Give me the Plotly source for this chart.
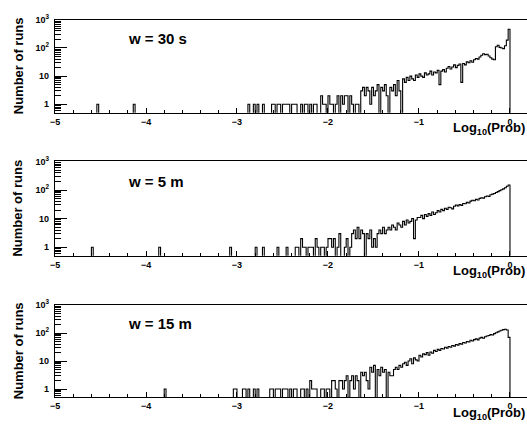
import plotly.graph_objects as go

# ---------------- data ----------------
BIN_WIDTH = 0.02
COUNTS_START = -3.10          # left edge of the first entry in each counts list
labels = ["w = 30 s", "w = 5 m", "w = 15 m"]

counts_30s = [0, 0, 0, 0, 0,
    0, 0, 0, 0, 0, 0, 1, 0, 0, 1, 0, 1, 0, 0, 1, 0, 0, 0, 0, 1, 1, 0,
    1, 1, 0, 1, 1, 1, 1, 0, 1, 1, 1, 0, 0,
    1, 0, 1, 1, 0, 1, 0, 1, 1, 0, 0,
    2, 1, 1, 0, 2, 1, 1, 0, 1,
    2, 0, 2, 1, 2, 2, 0, 2,
    1, 0, 1, 1, 0,
    3, 4, 2, 4, 3, 1, 4, 2,
    3, 5, 0, 4, 3, 5, 2, 0, 4, 3, 5, 2, 7, 3, 0,
    8, 6, 9, 7, 10, 8, 7, 11, 9,
    12, 10, 9, 13, 11, 12, 15, 11, 14, 13, 16, 5,
    15, 17, 14, 19, 22, 18, 21, 25, 20, 24, 27, 6,
    28, 25, 32, 30, 35, 31, 38, 42, 40, 48, 55, 62,
    58, 60, 52, 45, 40, 38,
    110, 125, 105, 100, 95, 120, 190, 460]
isolated_30s = [-4.53, -4.12]

counts_5m = [0, 1, 0, 0, 0,
    0, 0, 0, 0, 0, 0, 0, 0, 0, 0,
    1, 0, 0, 0, 1, 0, 0, 0, 0, 0, 0, 0, 1, 0, 0, 0, 0, 1, 0, 0, 0, 0,
    1, 1, 0, 2,
    1, 1, 0, 1, 1, 1, 0,
    2, 1, 0, 1, 1, 0, 1,
    2, 2, 1, 2, 0,
    1, 3, 0, 0, 1, 2, 0, 1,
    3, 4, 2, 5,
    2, 4, 3, 0, 3, 2, 4, 1,
    2, 1, 3, 4, 3, 5, 3, 4, 5, 4, 6, 5, 4, 7, 6, 5, 8, 6, 9, 7, 8, 10, 2, 9, 11,
    11, 13, 10, 14, 12, 15, 13, 17, 14, 16, 19, 17, 21, 19, 23, 21, 25, 24, 22, 27,
    30, 28, 31, 29, 34, 33, 37, 35, 41, 44, 42, 47, 45, 51, 54, 52, 58, 62, 60, 68,
    72, 76, 82, 88, 95, 102, 110, 120, 135, 150]
isolated_5m = [-4.59, -3.85]

counts_15m = [0, 0, 0, 1, 1,
    0, 0, 0, 1, 1, 0, 1, 0, 0, 1, 0, 1,
    0, 0, 0, 0, 0, 0,
    1, 1, 0, 1, 1, 1, 0, 1,
    1, 1, 0, 1, 0, 1, 1, 0, 0,
    1, 1, 0, 1, 0, 2, 1, 1, 1, 0, 0,
    1, 1, 0, 1, 1, 0,
    2, 2, 1, 0, 2, 2, 1, 2, 3, 0,
    2, 3, 1, 3, 2, 0,
    4, 3, 4, 2, 1, 6, 4, 7, 0,
    5, 3, 6, 4, 5, 0, 4, 3,
    3, 5, 6, 5, 7, 6, 8,
    9, 7, 10, 12, 8, 13, 11, 10,
    16, 14, 18, 17, 20, 16, 21, 19, 24, 22, 26, 24, 28, 27, 31, 29, 33, 31, 36, 34,
    39, 37, 42, 40, 46, 44, 50, 48, 55, 52, 58, 62, 57, 66, 70, 65, 74, 78, 82, 88,
    85, 95, 102, 110, 118, 125, 132, 136, 128, 70]
isolated_15m = [-3.79]

series = [(counts_30s, isolated_30s), (counts_5m, isolated_5m), (counts_15m, isolated_15m)]

x_tickvals = [-5, -4, -3, -2, -1, 0]
y_tickvals = [1, 10, 100, 1000]
y_ticktext = ["1", "10", "10<sup>2</sup>", "10<sup>3</sup>"]

# ---------------- geometry ----------------
W, H = 527, 425
L = 55
panels_px = [(13, 107.5), (157, 253), (303, 397)]   # top, bottom of each frame
XR = [-5, 0.187]
YR = [-0.3, 3]
FLOOR = 0.01
FONT = "Liberation Sans"


def step_xy(counts, isolated):
    nb = int(round(5 / BIN_WIDTH))
    full = [0] * nb
    start = int(round((COUNTS_START + 5) / BIN_WIDTH))
    for k, c in enumerate(counts):
        full[start + k] += c
    for xo in isolated:
        full[int((xo + 5) // BIN_WIDTH)] += 1
    xs, ys = [-5.0], [FLOOR]
    for k, c in enumerate(full):
        xs.append(-5 + k * BIN_WIDTH)
        ys.append(c if c > 0 else FLOOR)
    xs.append(0.0)
    ys.append(FLOOR)
    return xs, ys


def px2px(x):
    return (x - L) / (W - L)


def py2py(y):
    return (H - y) / H


fig = go.Figure()
annotations = []
for i, ((counts, iso), lab) in enumerate(zip(series, labels)):
    n = "" if i == 0 else str(i + 1)
    xs, ys = step_xy(counts, iso)
    fig.add_trace(go.Scatter(x=xs, y=ys, mode="lines", line=dict(color="black", width=1.1, shape="hv", simplify=False),
                             xaxis="x" + n, yaxis="y" + n, showlegend=False, hoverinfo="skip"))
    top, bot = panels_px[i]
    fig.layout["xaxis" + n] = dict(
        domain=[0, 1], anchor="y" + n, range=XR, showline=True, linecolor="black", linewidth=1.2, mirror=True,
        ticks="inside", ticklen=5, tickwidth=1, tickcolor="black", tickmode="array", tickvals=x_tickvals,
        minor=dict(ticks="inside", ticklen=3, dtick=0.2, tickcolor="black", showgrid=False),
        showgrid=False, zeroline=False,
        tickfont=dict(family=FONT, size=9, color="black", weight="bold"), ticklabelstandoff=0)
    fig.layout["yaxis" + n] = dict(
        domain=[py2py(bot), py2py(top)], anchor="x" + n, type="log", range=YR,
        showline=True, linecolor="black", linewidth=1.2, mirror=False,
        ticks="inside", ticklen=12, tickwidth=1, tickcolor="black",
        tickmode="array", tickvals=y_tickvals, ticktext=y_ticktext,
        minor=dict(ticks="inside", ticklen=6, dtick="D1", tickcolor="black", showgrid=False),
        showgrid=False, zeroline=False,
        tickfont=dict(family=FONT, size=9, color="black", weight="bold"), ticklabelstandoff=3)
    annotations.append(dict(text="<b>" + lab + "</b>", x=px2px(126), y=py2py([32, 177, 322][i]),
                            xref="paper", yref="paper", xanchor="left", yanchor="middle", showarrow=False,
                            font=dict(family=FONT, size=15, color="black")))
    annotations.append(dict(text="<b>Number of runs</b>", textangle=-90, x=px2px(18), y=py2py((top + bot) / 2),
                            xref="paper", yref="paper", xanchor="center", yanchor="middle", showarrow=False,
                            font=dict(family=FONT, size=13, color="black")))
    annotations.append(dict(text="<b>Log<sub>10</sub>(Prob)</b>", x=1.0, y=py2py(bot + 16),
                            xref="paper", yref="paper", xanchor="right", yanchor="middle", showarrow=False,
                            font=dict(family=FONT, size=13, color="black")))

fig.update_layout(width=W, height=H, margin=dict(l=L, r=0, t=0, b=0),
                  paper_bgcolor="white", plot_bgcolor="white", annotations=annotations)
fig.write_html("out.html", config={"displayModeBar": False},
               post_script=("document.documentElement.style.margin='0';"
                            "document.body.style.margin='0';document.body.style.padding='0';"
                            "document.body.style.overflow='hidden';"
                            "var d=document.getElementById('{plot_id}');"
                            "d.style.position='absolute';d.style.left='0px';d.style.top='0px';"))
